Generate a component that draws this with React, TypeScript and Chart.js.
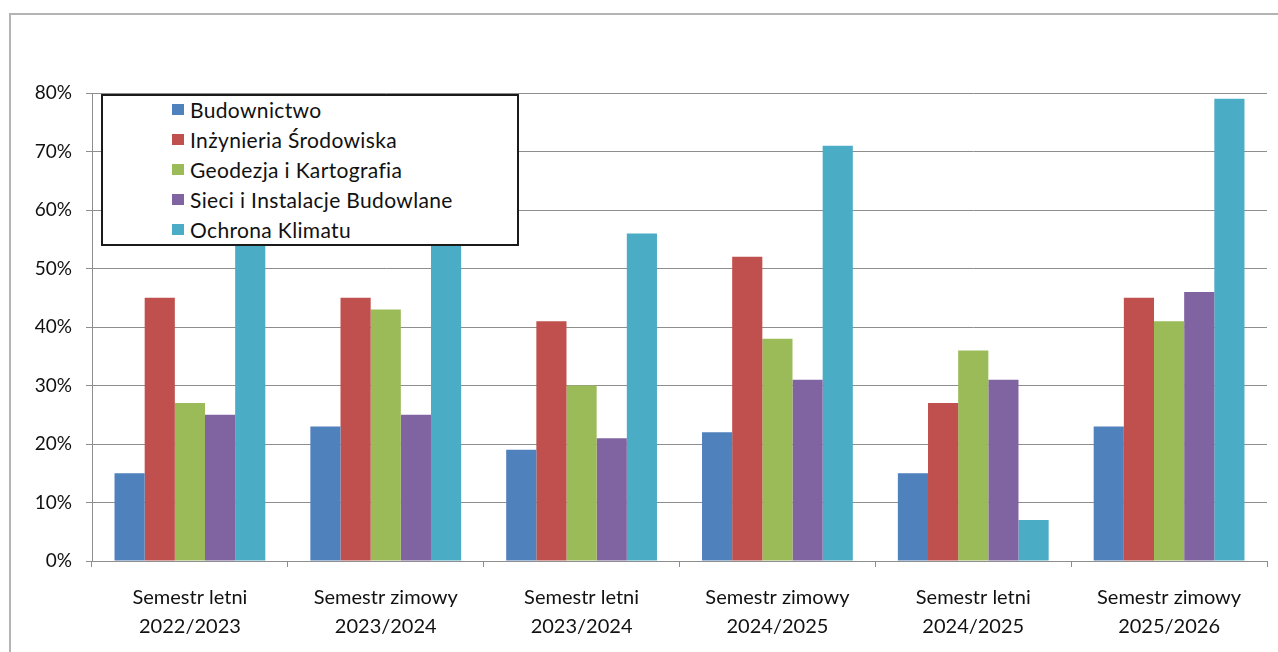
import React, { useEffect, useRef } from "react";
import { Chart, registerables } from "chart.js";

Chart.register(...registerables);

const categories: string[][] = [
  ["Semestr letni", "2022/2023"],
  ["Semestr zimowy", "2023/2024"],
  ["Semestr letni", "2023/2024"],
  ["Semestr zimowy", "2024/2025"],
  ["Semestr letni", "2024/2025"],
  ["Semestr zimowy", "2025/2026"],
];

const seriesNames = [
  "Budownictwo",
  "Inżynieria Środowiska",
  "Geodezja i Kartografia",
  "Sieci i Instalacje Budowlane",
  "Ochrona Klimatu",
];
const seriesColors = ["#4F81BD", "#C0504D", "#9BBB59", "#8064A2", "#4BACC6"];

const budownictwo = [15, 23, 19, 22, 15, 23];
const inzynieria = [45, 45, 41, 52, 27, 45];
const geodezja = [27, 43, 30, 38, 36, 41];
const sieci = [25, 25, 21, 31, 31, 46];
const ochronaKlimatu = [57, 62, 56, 71, 7, 79];

const yMin = 0;
const yMax = 80;
const yStep = 10;

const seriesValues = [budownictwo, inzynieria, geodezja, sieci, ochronaKlimatu];

const FONT = "Lato, 'Open Sans', sans-serif";

export default function App() {
  const canvasRef = useRef<HTMLCanvasElement | null>(null);

  useEffect(() => {
    const canvas = canvasRef.current;
    if (!canvas) return;
    const chart = new Chart(canvas, {
      type: "bar",
      data: {
        labels: categories,
        datasets: seriesNames.map((name, i) => ({
          label: name,
          data: seriesValues[i],
          backgroundColor: seriesColors[i],
          borderWidth: 0,
          categoryPercentage: 0.77,
          barPercentage: 1.0,
        })),
      },
      options: {
        responsive: false,
        animation: false,
        devicePixelRatio: 1,
        layout: { padding: { left: 0, top: 93, right: 11, bottom: 0 } },
        plugins: {
          legend: { display: false },
          tooltip: { enabled: false },
          title: { display: false },
        },
        scales: {
          x: {
            offset: true,
            grid: {
              display: true,
              offset: true,
              drawOnChartArea: false,
              drawTicks: true,
              tickLength: 6,
              color: "#8e8e8e",
              lineWidth: 1,
            },
            border: { display: true, color: "#8e8e8e", width: 1 },
            ticks: {
              color: "#111",
              font: { family: FONT, size: 20, lineHeight: 1.45 },
              padding: 16,
              maxRotation: 0,
              autoSkip: false,
            },
            afterFit: (scale: any) => {
              scale.height = 91;
            },
          },
          y: {
            min: yMin,
            max: yMax,
            grid: {
              color: "#8e8e8e",
              lineWidth: 1,
              drawTicks: true,
              tickLength: 6,
            },
            border: { display: true, color: "#8e8e8e", width: 1 },
            ticks: {
              stepSize: yStep,
              color: "#111",
              font: { family: FONT, size: 19 },
              padding: 14,
              callback: (v: any) => `${v}%`,
            },
            afterFit: (scale: any) => {
              scale.width = 92;
            },
          },
        },
      },
    });
    return () => chart.destroy();
  }, []);

  return (
    <div
      style={{
        position: "fixed",
        left: 0,
        top: 0,
        width: 1278,
        height: 652,
        overflow: "hidden",
        background: "#fff",
      }}
    >
      <div
        style={{
          position: "absolute",
          left: 9,
          top: 13,
          width: 1400,
          height: 800,
          border: "2px solid #b4b4b4",
          background: "#fff",
        }}
      />
      <canvas
        ref={canvasRef}
        width={1278}
        height={652}
        style={{ position: "absolute", left: 0, top: 0, width: 1278, height: 652 }}
      />
      <div
        style={{
          position: "absolute",
          left: 101,
          top: 94,
          width: 414,
          height: 148,
          border: "2px solid #1a1a1a",
          background: "#fff",
          fontFamily: FONT,
          fontSize: 21,
          letterSpacing: 0.35,
          color: "#111",
        }}
      >
        {seriesNames.map((name, i) => (
          <div
            key={name}
            style={{
              position: "absolute",
              left: 69,
              top: -2 + i * 30.1,
              height: 30,
              display: "flex",
              alignItems: "center",
              whiteSpace: "nowrap",
            }}
          >
            <span
              style={{
                display: "inline-block",
                width: 12,
                height: 11,
                background: seriesColors[i],
                marginRight: 6,
              }}
            />
            <span>{name}</span>
          </div>
        ))}
      </div>
    </div>
  );
}
